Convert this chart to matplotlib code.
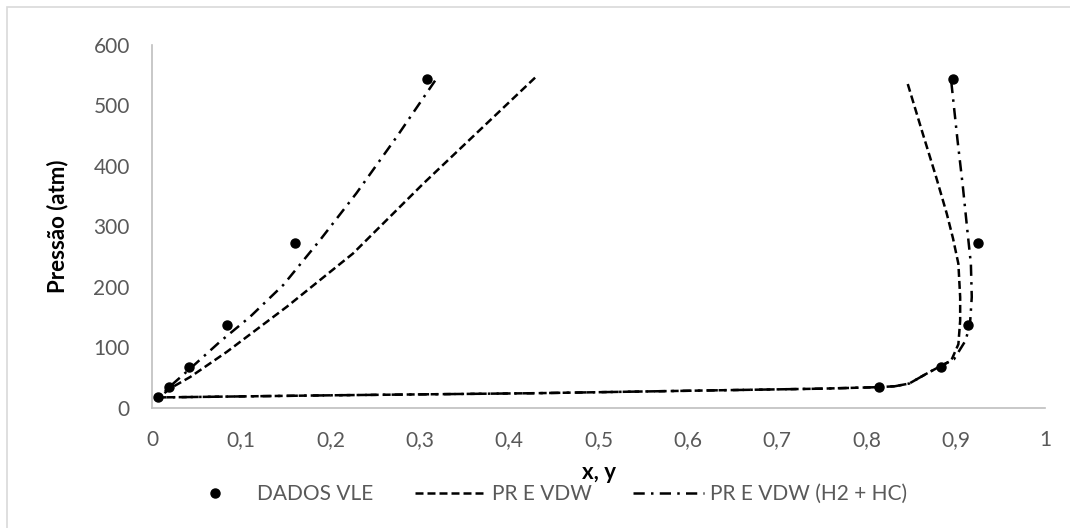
import matplotlib
matplotlib.use("Agg")
import matplotlib.pyplot as plt
from matplotlib.patches import Rectangle
from matplotlib.ticker import FuncFormatter

plt.rcParams['font.family'] = ['Lato', 'DejaVu Sans']

# experimental VLE data (pressure in atm)
p_liq = [17.0, 34.0, 68.0, 136.1, 272.2, 544.4]
x_liq = [0.007, 0.019, 0.041, 0.084, 0.160, 0.308]
p_vap = [34.0, 68.0, 136.1, 272.2, 544.4]
y_vap = [0.814, 0.883, 0.914, 0.925, 0.897]

# PR E VDW model curve (liquid branch -> vapour branch)
pr_x = [0.429, 0.304, 0.225, 0.151, 0.084, 0.043, 0.024, 0.007, 0.2, 0.43,
        0.6, 0.75, 0.814, 0.832, 0.848, 0.867, 0.882, 0.895, 0.903, 0.905,
        0.905, 0.903, 0.897, 0.890, 0.878, 0.863, 0.846]
pr_p = [546, 371, 255, 167, 92.6, 51, 35, 17, 20.5, 24,
        28, 31.5, 34, 35.5, 40, 56, 68, 78, 105, 144,
        183, 238, 280, 321, 382, 454, 537]

# PR E VDW (H2 + HC) model curve
hc_x = [0.317, 0.274, 0.229, 0.188, 0.147, 0.110, 0.076, 0.043, 0.020, 0.007,
        0.2, 0.43, 0.6, 0.75, 0.814, 0.832, 0.848, 0.867, 0.882, 0.898, 0.911,
        0.916, 0.918, 0.917, 0.913, 0.908, 0.902, 0.895]
hc_p = [541, 448, 355, 277, 203, 150.6, 109, 65, 35, 17,
        20.5, 24, 28, 31.5, 34, 35.5, 40, 56, 68, 80, 111,
        138, 183, 238, 294, 366, 443, 540]

x_ticks = [0, 0.1, 0.2, 0.3, 0.4, 0.5, 0.6, 0.7, 0.8, 0.9, 1.0]
y_ticks = [0, 100, 200, 300, 400, 500, 600]

fig = plt.figure(figsize=(10.7, 5.28), dpi=100)
ax = fig.add_axes([152/1070, 1-407.7/528, (1045-152)/1070, (407.7-45)/528])

# chart area border
fig.patches.append(Rectangle((7/1070, -0.05), 1.1, 1 - 7/528 + 0.05,
                             transform=fig.transFigure, fill=False,
                             edgecolor='#d9d9d9', lw=1.2))

ax.plot(x_liq + y_vap, p_liq + p_vap, 'o', color='black', ms=6.5,
        label='DADOS VLE', zorder=3)
ax.plot(pr_x, pr_p, color='black', lw=1.8, linestyle=(0, (3.2, 1.6)),
        label='PR E VDW')
ax.plot(hc_x, hc_p, color='black', lw=1.8, linestyle=(0, (4.5, 2.5, 1, 2.5)),
        label='PR E VDW (H2 + HC)')

ax.set_xlim(0, 1)
ax.set_ylim(0, 600)
ax.set_xticks(x_ticks)
ax.set_yticks(y_ticks)
ax.xaxis.set_major_formatter(FuncFormatter(lambda v, p: ('%g' % v).replace('.', ',')))
ax.tick_params(axis='both', length=0, labelsize=15, labelcolor='#595959')
ax.tick_params(axis='x', pad=16)
ax.tick_params(axis='y', pad=16)

for s in ['top', 'right']:
    ax.spines[s].set_visible(False)
for s in ['left', 'bottom']:
    ax.spines[s].set_color('#bfbfbf')
    ax.spines[s].set_linewidth(1.2)

ax.set_xlabel('x, y', fontsize=16, fontweight='bold', labelpad=9)
ax.set_ylabel('Pressão (atm)', fontsize=16, fontweight='bold', labelpad=18)

leg = fig.legend(loc='center', bbox_to_anchor=(0.508, 0.064), ncol=3,
                 frameon=False, fontsize=15, handlelength=3.4,
                 handletextpad=0.3, columnspacing=2.0)
for t in leg.get_texts():
    t.set_color('#595959')

fig.savefig('out.png', dpi=100)
